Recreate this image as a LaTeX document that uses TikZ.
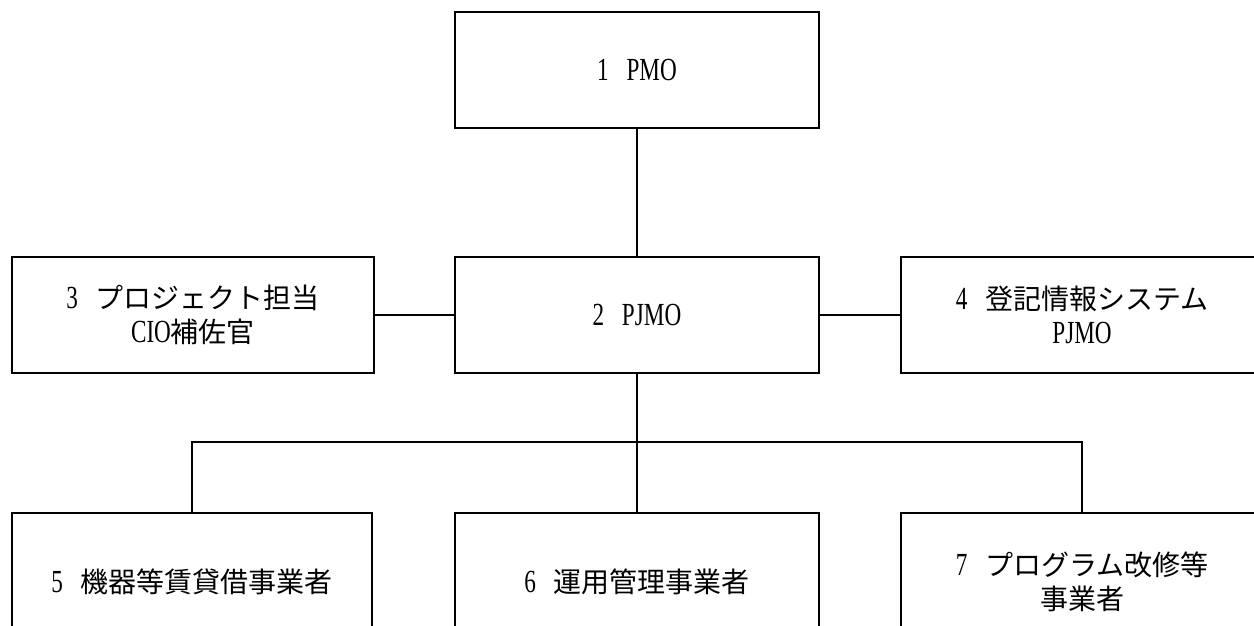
\documentclass[tikz,border=0pt]{standalone}
\usepackage{fontspec}
\setmainfont{Liberation Serif}[FakeStretch=0.72,Scale=1.15]
\newfontfamily\cjk{Noto Sans CJK JP}
\newcommand\jsp{\hspace{0.55em}}
\begin{document}
\begin{tikzpicture}[x=1pt,y=-1pt,
  box/.style={draw,line width=1.6pt,minimum width=362pt,minimum height=116pt,inner sep=0pt,align=center,
    font=\fontsize{28}{34}\selectfont},
  tallbox/.style={box,minimum height=137pt},
  link/.style={line width=1.6pt}]
\useasboundingbox (0,0) rectangle (1254,626);
\clip (0,0) rectangle (1254,626);
\fill[white] (0,0) rectangle (1254,626);
\node[box,minimum width=364pt] (n1) at (637,70) {1\jsp PMO};
\node[box,minimum width=364pt] (n2) at (637,315) {2\jsp PJMO};
\node[box] (n3) at (193,315) {3\jsp{\cjk プロジェクト担当}\\CIO{\cjk 補佐官}};
\node[box] (n4) at (1082,315) {4\jsp{\cjk 登記情報システム}\\PJMO};
\node[tallbox,minimum width=360pt] (n5) at (192,581.5) {5\jsp{\cjk 機器等賃貸借事業者}};
\node[tallbox,minimum width=364pt] (n6) at (637,581.5) {6\jsp{\cjk 運用管理事業者}};
\node[tallbox] (n7) at (1082,581.5) {7\jsp{\cjk プログラム改修等}\\{\cjk 事業者}};
\coordinate (bus) at (637,442);
\draw[link] (n1.south) -- (n2.north);
\draw[link] (n3.east) -- (n2.west);
\draw[link] (n2.east) -- (n4.west);
\draw[link] (n2.south) -- (n6.north);
\draw[link] (n5.north) |- (bus) -| (n7.north);
\end{tikzpicture}
\end{document}
